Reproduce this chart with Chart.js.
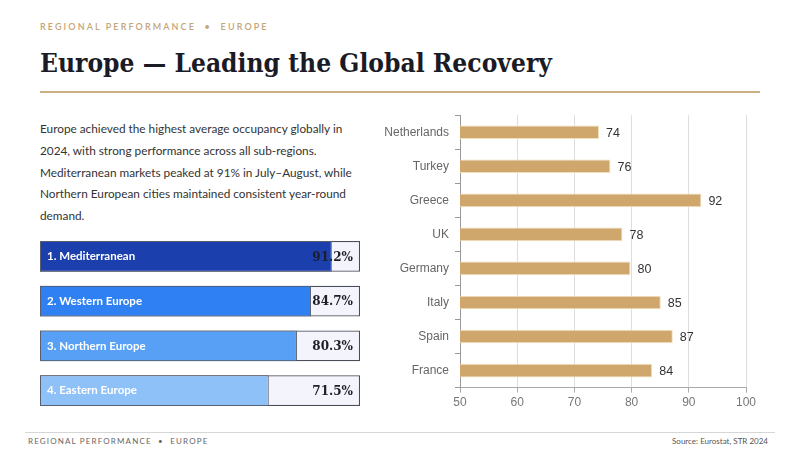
<!DOCTYPE html>
<html>
<head>
<meta charset="utf-8">
<script src="https://cdn.jsdelivr.net/npm/chart.js@4.4.1/dist/chart.umd.min.js"></script>
<style>
    html, body { margin: 0; padding: 0; background: #ffffff; }
    body { width: 800px; height: 450px; position: relative; overflow: hidden; font-family: Lato, "Open Sans", sans-serif; }
    .kicker { position: absolute; left: 40px; top: 21px; font-size: 9px; letter-spacing: 2.1px; color: #c4a678; font-weight: 600; }
    .title { position: absolute; left: 40px; top: 48px; font-family: "DejaVu Serif", serif; font-weight: 700; font-size: 26px; color: #1b1b26; white-space: nowrap; transform-origin: left top; }
    .rule { position: absolute; left: 40px; top: 91px; width: 720px; height: 2px; background: #cdb184; }
    .intro { position: absolute; left: 40px; top: 118px; width: 330px; font-size: 11.8px; line-height: 21.8px; color: #333; }
    .foot-rule { position: absolute; left: 25px; top: 432px; width: 750px; height: 1px; background: #d6d6d6; }
    .foot-left { position: absolute; left: 28px; top: 436px; font-size: 8px; letter-spacing: 1.15px; color: #666; }
    .foot-right { position: absolute; right: 32px; top: 436px; font-size: 8px; color: #555; }
    #rankWrap { position: absolute; left: 39px; top: 233px; width: 322px; height: 181px; }
    #barWrap { position: absolute; left: 380px; top: 102px; width: 380px; height: 311px; }
</style>
</head>
<body>
<div class="kicker">REGIONAL PERFORMANCE &nbsp;•&nbsp; EUROPE</div>
<div class="title" id="title">Europe — Leading the Global Recovery</div>
<div class="rule"></div>
<div class="intro">Europe achieved the highest average occupancy globally in 2024, with strong performance across all sub-regions. Mediterranean markets peaked at 91% in July–August, while Northern European cities maintained consistent year-round demand.</div>

<div id="rankWrap"><canvas id="rank"></canvas></div>
<div id="barWrap"><canvas id="bars"></canvas></div>

<div class="foot-rule"></div>
<div class="foot-left">REGIONAL PERFORMANCE &nbsp;•&nbsp; EUROPE</div>
<div class="foot-right">Source: Eurostat, STR 2024</div>

<script>
"use strict"

// sub-region ranking (left)
const regions = ["1. Mediterranean", "2. Western Europe", "3. Northern Europe", "4. Eastern Europe"];
const regionValues = [91.2, 84.7, 80.3, 71.5];
const regionColors = ["#1c3fae", "#2f80f2", "#57a0f6", "#8fc1f9"];

// country occupancy (right)
const countries = ["Netherlands", "Turkey", "Greece", "UK", "Germany", "Italy", "Spain", "France"];
const countryValues = [74.3, 76.3, 92.2, 78.4, 79.8, 85.1, 87.2, 83.6];
const xTicks = [50, 60, 70, 80, 90, 100];

// fit the title to the width it takes in the slide
let title = document.getElementById("title");
let w = title.getBoundingClientRect().width;
if (w > 0) title.style.transform = "scaleX(" + (512 / w) + ")";

// labels inside the ranking rows
const rankLabels = {
    id: "rankLabels",
    afterDatasetsDraw(chart) {
        let ctx = chart.ctx;
        let meta = chart.getDatasetMeta(0);
        let area = chart.chartArea;
        ctx.save();
        ctx.textBaseline = "middle";
        meta.data.forEach((bar, i) => {
            ctx.fillStyle = "#ffffff";
            ctx.font = "700 11.5px Lato, sans-serif";
            ctx.textAlign = "left";
            ctx.fillText(regions[i], area.left + 7, bar.y);
            ctx.fillStyle = "#1e1e28";
            ctx.font = "700 12px 'DejaVu Serif', serif";
            ctx.textAlign = "right";
            ctx.fillText(regionValues[i].toFixed(1) + "%", area.right - 7, bar.y + 1);
        });
        ctx.restore();
    }
};

new Chart(document.getElementById("rank"), {
    type: "bar",
    data: {
        labels: regions,
        datasets: [{
            data: regionValues,
            backgroundColor: regionColors,
            borderColor: "#5a5f6e",
            borderWidth: 1,
            borderSkipped: false,
            grouped: false,
            order: 0
        }, {
            data: regions.map(() => 100),
            backgroundColor: "#f3f4fc",
            borderColor: "#4a4d58",
            borderWidth: 1.2,
            borderSkipped: false,
            grouped: false,
            order: 1
        }]
    },
    options: {
        indexAxis: "y",
        responsive: true,
        maintainAspectRatio: false,
        animation: false,
        layout: { padding: 1 },
        barPercentage: 0.69,
        categoryPercentage: 1,
        plugins: { legend: { display: false }, tooltip: { enabled: false } },
        scales: {
            x: { display: false, min: 0, max: 100 },
            y: { display: false }
        }
    },
    plugins: [rankLabels]
});

// value labels at the end of each bar
const valueLabels = {
    id: "valueLabels",
    afterDatasetsDraw(chart) {
        let ctx = chart.ctx;
        let meta = chart.getDatasetMeta(0);
        ctx.save();
        ctx.fillStyle = "#333";
        ctx.font = "12.5px 'Liberation Sans', Arial, sans-serif";
        ctx.textAlign = "left";
        ctx.textBaseline = "middle";
        meta.data.forEach((bar, i) => {
            ctx.fillText(Math.round(countryValues[i]), bar.x + 7, bar.y + 1);
        });
        ctx.restore();
    }
};

new Chart(document.getElementById("bars"), {
    type: "bar",
    data: {
        labels: countries,
        datasets: [{
            data: countryValues,
            backgroundColor: "#cfa66c",
            borderColor: "#f2dfbd",
            borderWidth: 1,
            borderSkipped: "left",
            barPercentage: 0.4,
            categoryPercentage: 1
        }]
    },
    options: {
        indexAxis: "y",
        responsive: true,
        maintainAspectRatio: false,
        animation: false,
        layout: { padding: { top: 0, right: 14, bottom: 0, left: 0 } },
        plugins: { legend: { display: false }, tooltip: { enabled: false } },
        scales: {
            x: {
                min: 50,
                max: 100,
                afterBuildTicks: axis => { axis.ticks = xTicks.map(v => ({ value: v })); },
                grid: { color: "#dedede", tickColor: "#aaaaaa", tickLength: 5 },
                border: { color: "#aaaaaa" },
                ticks: { color: "#777", font: { family: "'Liberation Sans', Arial, sans-serif", size: 12 }, padding: 3 }
            },
            y: {
                afterFit: axis => { axis.width = 80; },
                grid: { drawOnChartArea: false, color: "#999", tickLength: 5, offset: true },
                border: { color: "#999" },
                ticks: { color: "#666", font: { family: "'Liberation Sans', Arial, sans-serif", size: 12 }, padding: 6 }
            }
        }
    },
    plugins: [valueLabels]
});
</script>
</body>
</html>
